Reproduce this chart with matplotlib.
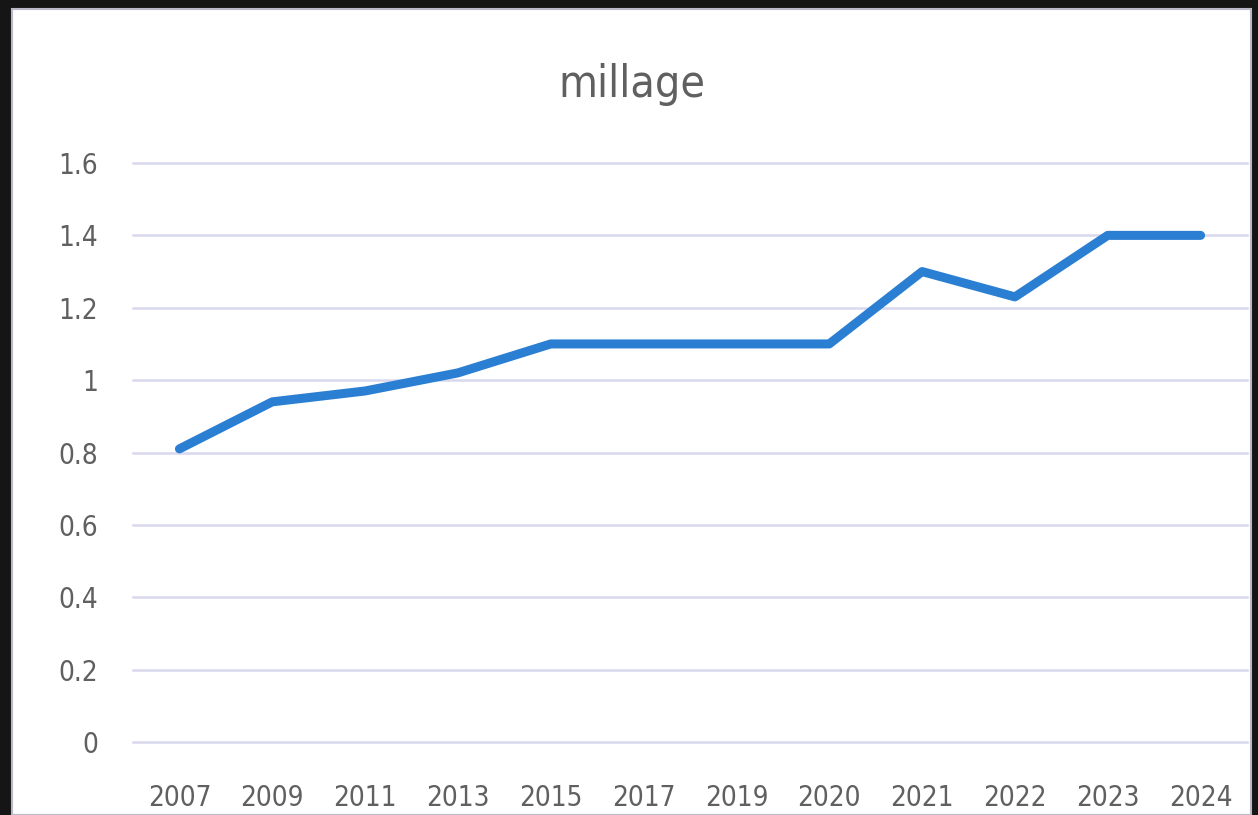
import matplotlib
matplotlib.use("Agg")
from matplotlib import pyplot as plt
from matplotlib import font_manager
from matplotlib.patches import Rectangle

years = ['2007', '2009', '2011', '2013', '2015', '2017', '2019', '2020',
         '2021', '2022', '2023', '2024']
millage = [0.81, 0.94, 0.97, 1.02, 1.10, 1.10, 1.10, 1.10, 1.30, 1.23, 1.40, 1.40]
yticks = [0, 0.2, 0.4, 0.6, 0.8, 1.0, 1.2, 1.4, 1.6]
ylabels = ['0', '0.2', '0.4', '0.6', '0.8', '1', '1.2', '1.4', '1.6']

# narrow face if one is around (the original looks like Calibri)
files = [f.fname for f in font_manager.fontManager.ttflist]
narrow = None
for key in ['LiberationSansNarrow-Regular', 'DejaVuSansCondensed.ttf']:
    hits = [p for p in files if key in p]
    if hits:
        narrow = hits[0]
        break

def fp(size):
    if narrow:
        return font_manager.FontProperties(fname=narrow, size=size)
    return font_manager.FontProperties(family='DejaVu Sans', size=size)

grey = '#606060'

fig = plt.figure(figsize=(12.58, 8.15), dpi=100)
fig.patch.set_facecolor('#151515')

# white page of the scan
bg = fig.add_axes([0, 0, 1, 1], zorder=0)
bg.set_xlim(0, 1258)
bg.set_ylim(815, 0)
bg.axis('off')
bg.add_patch(Rectangle((12, 9), 1239, 806, facecolor='white',
                       edgecolor='#b8b8c8', linewidth=1.5))

ax = fig.add_axes([133 / 1258, (815 - 742) / 815, (1247 - 133) / 1258, (742 - 163) / 815],
                  zorder=1)
ax.set_facecolor('none')

x = list(range(len(years)))
ax.plot(x, millage, color='#2b7fd3', linewidth=6.5, solid_capstyle='round',
        solid_joinstyle='round', zorder=3)

ax.set_xlim(-0.5, len(years) - 0.5)
ax.set_ylim(0, 1.6)
ax.set_xticks(x)
ax.set_xticklabels(years)
ax.set_yticks(yticks)
ax.set_yticklabels(ylabels)
ax.grid(axis='y', color='#d8d8ee', linewidth=1.8)
for gl in ax.get_ygridlines():
    gl.set_clip_on(False)
ax.set_axisbelow(True)
for s in ax.spines.values():
    s.set_visible(False)
ax.tick_params(axis='both', length=0, labelcolor=grey)
ax.tick_params(axis='y', pad=25)
ax.tick_params(axis='x', pad=30)
for lab in ax.get_xticklabels() + ax.get_yticklabels():
    lab.set_fontproperties(fp(20 if narrow else 17))

fig.text(632 / 1258, 1 - 85 / 815, 'millage', ha='center', va='center',
         color=grey, fontproperties=fp(32 if narrow else 27))

fig.savefig('out.png', dpi=100, facecolor=fig.get_facecolor())
